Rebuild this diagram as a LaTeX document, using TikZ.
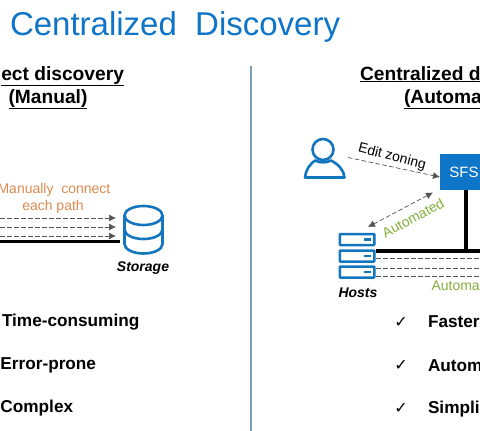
\documentclass[tikz,border=0pt]{standalone}
\usepackage{fontspec}
\setmainfont{Liberation Sans}
\newfontfamily\djv{DejaVu Sans}
\usetikzlibrary{arrows.meta}
\definecolor{brandblue}{HTML}{0F75C8}
\definecolor{iconblue}{HTML}{1275BE}
\definecolor{manualor}{HTML}{DD8A50}
\definecolor{autogreen}{HTML}{86AE3C}
\definecolor{dashgray}{HTML}{555555}
\definecolor{dividerc}{HTML}{7F9FB4}
\tikzset{
  txt/.style={inner sep=0pt,outer sep=0pt,text=black},
  headtxt/.style={txt,font=\fontsize{19.2}{21}\selectfont\bfseries,anchor=base},
  itemtxt/.style={txt,font=\fontsize{17.2}{20}\selectfont\bfseries,anchor=base west},
  tagtxt/.style={txt,font=\fontsize{14}{16}\selectfont\bfseries\itshape,anchor=base},
  icon/.style={draw=iconblue,line width=2.6pt},
  thickline/.style={draw=black,line width=3.4pt},
  dashline/.style={draw=dashgray,line width=.7pt,dash pattern=on 4.5pt off 2.5pt},
  dasharrow/.style={dashline,-{Latex[length=7pt,width=7pt]}},
  hostbox/.style={icon,rounded corners=.6pt,minimum width=34.5pt,minimum height=11pt,inner sep=0pt,line width=2.5pt},
  checkm/.style={txt,font=\djv\fontsize{16}{18}\selectfont,anchor=base},
}
\begin{document}
\begin{tikzpicture}[x=1pt,y=-1pt]
\useasboundingbox (0,0) rectangle (480,431);
\clip (0,0) rectangle (480,431);
\fill[white] (0,0) rectangle (480,431);

\node[txt,text=brandblue,anchor=base west,font=\fontsize{33}{36}\selectfont] (title) at (10,35) {Centralized\ \ Discovery};

% divider
\coordinate (divtop) at (251,66);
\coordinate (divbot) at (251,431);
\draw[dividerc,line width=1.3pt] (divtop) -- (divbot);

% left headings
\node[headtxt,anchor=base east] (lh1) at (124,80) {\underline{ect discovery}};
\node[headtxt] (lh2) at (48,103) {\underline{(Manual)}};
% right headings
\node[headtxt,anchor=base west] (rh1) at (360,80) {\underline{Centralized d}};
\node[headtxt,anchor=base west] (rh2) at (404,103) {\underline{(Automa}};

% left diagram
\node[txt,text=manualor,font=\fontsize{14}{16}\selectfont,anchor=base] (man1) at (54,193) {Manually\ \ connect};
\node[txt,text=manualor,font=\fontsize{14}{16}\selectfont,anchor=base] (man2) at (53,210) {each path};
\coordinate (la1) at (0,218); \coordinate (lb1) at (116,218);
\coordinate (la2) at (0,227); \coordinate (lb2) at (116,227);
\coordinate (la3) at (0,236); \coordinate (lb3) at (116,236);
\draw[dasharrow] (la1) -- (lb1);
\draw[dasharrow] (la2) -- (lb2);
\draw[dasharrow] (la3) -- (lb3);
\coordinate (lt0) at (0,241.5); \coordinate (lt1) at (120,241.5);
\draw[thickline] (lt0) -- (lt1);
% storage icon
\draw[icon] (143.5,215.5) ellipse [x radius=19,y radius=9.5];
\draw[icon] (124.5,215.5) -- (124.5,244) arc[start angle=180,end angle=360,x radius=19,y radius=-9.5] -- (162.5,215.5);
\draw[icon] (124.5,229.5) arc[start angle=180,end angle=360,x radius=19,y radius=-9.5];
\node[tagtxt] (storage) at (143,271) {Storage};

% left items
\node[itemtxt] (l1) at (2,326) {Time-consuming};
\node[itemtxt] (l2) at (0.5,369) {Error-prone};
\node[itemtxt] (l3) at (0.5,412) {Complex};

% user icon
\draw[icon] (323,149.5) circle [radius=10.5];
\draw[icon,line join=round] (305,177.5) .. controls (305.5,170) and (310,164) .. (315,160.5)
  .. controls (320,163) and (326,163) .. (331,160.5) .. controls (338,164) and (344,170) .. (344.5,177.5) -- cycle;

% SFS
\node[fill=brandblue,text=white,inner sep=0pt,minimum width=48pt,minimum height=36pt,font=\fontsize{15}{17}\selectfont] (sfs) at (464,172) {SFS};

% edit zoning
\coordinate (uout) at (348,157.5);
\coordinate (sfsin) at (440,177);
\draw[dasharrow] (uout) -- (sfsin);
\node[txt,rotate=-14.5,font=\fontsize{14}{16}\selectfont] (edit) at (392,157) {Edit zoning};

% automated
\coordinate (autoa) at (433,192.5);
\coordinate (autob) at (368,227);
\draw[dashline,{Latex[length=7pt,width=7pt]}-{Latex[length=7pt,width=7pt]}] (autoa) -- (autob);
\node[txt,text=autogreen,rotate=28,font=\fontsize{14}{16}\selectfont] (autotxt) at (413,218) {Automated};

% hosts
\foreach \n/\y in {h1/239.5,h2/256,h3/272}{
  \node[hostbox] (\n) at (357,\y) {};
  \fill[iconblue] ([xshift=-5pt]\n.east) ++(-6.5,-1.4) rectangle ++(6.5,2.8);
}
\node[tagtxt] (hosts) at (358,297) {Hosts};

% right diagram lines
\coordinate (rt1) at (480,251);
\coordinate (rt0) at (376,251);
\coordinate (junction) at (466,251);
\draw[thickline] (rt0) -- (rt1);
\draw[thickline] (sfs.south -| junction) -- (junction);
\foreach \y/\n in {258/a,268/b,276/c}{
  \coordinate (rd\n0) at (376,\y);
  \coordinate (rd\n1) at (480,\y);
  \draw[dashline] (rd\n0) -- (rd\n1);
}
\node[txt,text=autogreen,anchor=base west,font=\fontsize{14}{16}\selectfont] (auto2) at (431.5,290.5) {Automa};

% right items
\node[checkm] (c1) at (401,327) {✓};
\node[checkm] (c2) at (401,370) {✓};
\node[checkm] (c3) at (401,413) {✓};
\node[itemtxt] (r1) at (428,327.5) {Faster};
\node[itemtxt] (r2) at (428,371) {Autom};
\node[itemtxt] (r3) at (428,413.5) {Simpli};
\end{tikzpicture}
\end{document}
